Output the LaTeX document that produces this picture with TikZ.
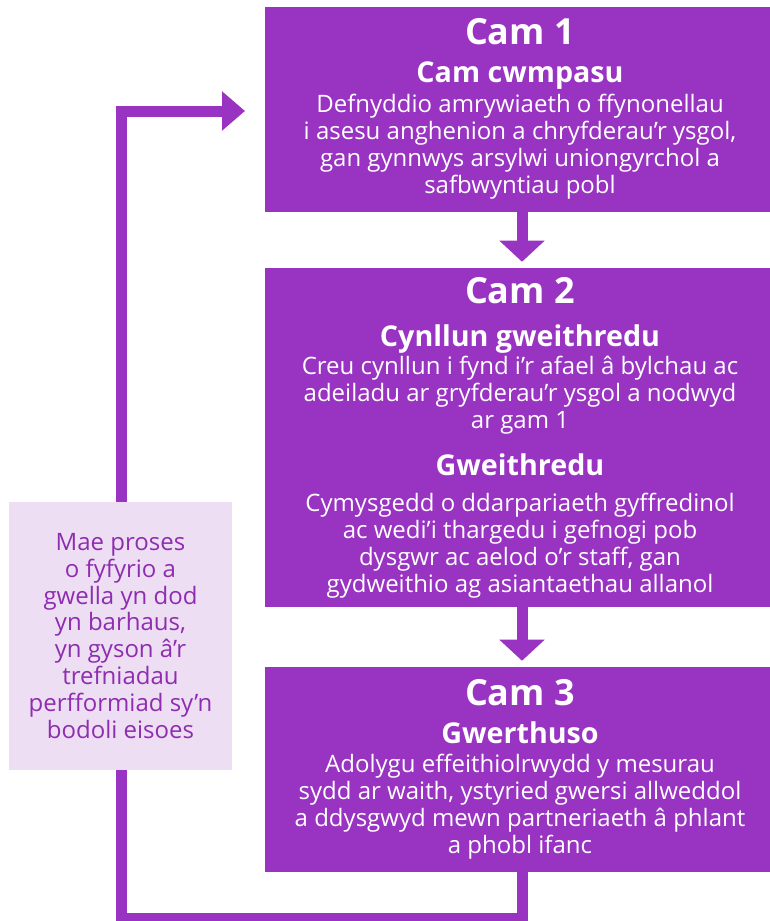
\documentclass[tikz,border=0pt]{standalone}
\usepackage{fontspec}
\setmainfont{Open Sans}
\usetikzlibrary{arrows.meta}
\definecolor{campurple}{RGB}{153,51,194}
\definecolor{lilac}{RGB}{237,222,243}
\definecolor{lilactext}{RGB}{142,45,176}

\begin{document}
\begin{tikzpicture}[x=0.75pt,y=-0.75pt,
	stage/.style={fill=campurple,draw=none,minimum width=385.5pt,inner sep=0pt},
	heading/.style={text=white,font=\fontsize{27}{32}\selectfont\bfseries,anchor=base},
	subhead/.style={text=white,font=\fontsize{21.5}{26}\selectfont\bfseries,anchor=base},
	body/.style={text=white,font=\fontsize{18}{20.25}\selectfont,align=center,anchor=base,inner sep=0pt},
	flow/.style={draw=campurple,line width=8.25pt,-{Triangle[width=33pt,length=15.75pt]}},
	]
	\useasboundingbox (0,0) rectangle (770,921);
	% draw stage boxes
	\node[stage,minimum height=153.75pt] (cam1) at (522,109.5) {};
	\node[stage,minimum height=254.25pt] (cam2) at (522,437.5) {};
	\node[stage,minimum height=153.75pt] (cam3) at (522,769.5) {};
	% draw arrows between stages
	\draw[flow,shorten >=4.5pt] (cam1.south) -- (cam2.north);
	\draw[flow,shorten >=4.5pt] (cam2.south) -- (cam3.north);
	% draw loop back to stage 1
	\coordinate (back) at (245,111);
	\draw[flow,-{Triangle[width=28.5pt,length=17.25pt]}] (cam3.south) -- ++(0,46) -| (121,111) -- (back);
	% draw reflection box
	\node[fill=lilac,text=lilactext,minimum width=167.25pt,minimum height=201pt,align=center,
		font=\fontsize{18}{20.2}\selectfont] (reflect) at (120.5,636)
		{Mae proses\\ o fyfyrio a\\ gwella yn dod\\ yn barhaus,\\ yn gyson â’r\\ trefniadau\\ perfformiad sy’n\\ bodoli eisoes};
	% stage 1 text (body nodes sit on their last line)
	\node[heading] (t1) at (520,44) {Cam 1};
	\node[subhead] (s1) at (520,82) {Cam cwmpasu};
	\node[body] (b1) at (520,193) {Defnyddio amrywiaeth o ffynonellau\\ i asesu anghenion a chryfderau’r ysgol,\\ gan gynnwys arsylwi uniongyrchol a\\ safbwyntiau pobl};
	% stage 2 text
	\node[heading] (t2) at (520,303) {Cam 2};
	\node[subhead] (s2) at (520,346) {Cynllun gweithredu};
	\node[body] (b2) at (520,428) {Creu cynllun i fynd i’r afael â bylchau ac\\ adeiladu ar gryfderau’r ysgol a nodwyd\\ ar gam 1};
	\node[subhead] (s2b) at (520,475) {Gweithredu};
	\node[body] (b2b) at (520,592) {Cymysgedd o ddarpariaeth gyffredinol\\ ac wedi’i thargedu i gefnogi pob\\ dysgwr ac aelod o’r staff, gan\\ gydweithio ag asiantaethau allanol};
	% stage 3 text
	\node[heading] (t3) at (520,705) {Cam 3};
	\node[subhead] (s3) at (520,743) {Gwerthuso};
	\node[body] (b3) at (520,853) {Adolygu effeithiolrwydd y mesurau\\ sydd ar waith, ystyried gwersi allweddol\\ a ddysgwyd mewn partneriaeth â phlant\\ a phobl ifanc};
\end{tikzpicture}
\end{document}
